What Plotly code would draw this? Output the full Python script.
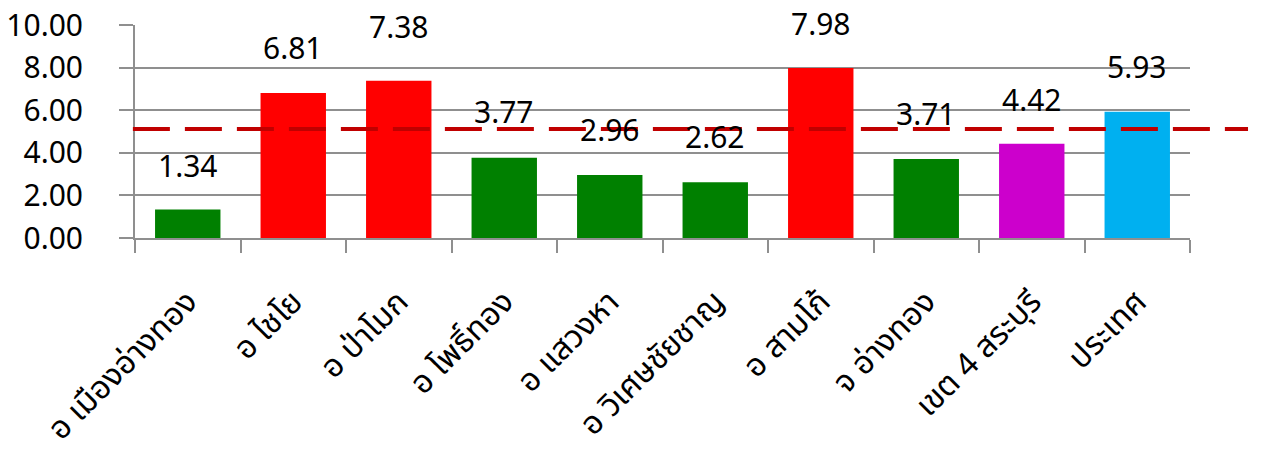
import plotly.graph_objects as go

# Districts of Ang Thong province, health region 4 and the national figure
districts = [
    "อ เมืองอ่างทอง", "อ ไชโย", "อ ป่าโมก", "อ โพธิ์ทอง", "อ แสวงหา",
    "อ วิเศษชัยชาญ", "อ สามโก้", "จ อ่างทอง", "เขต 4 สระบุรี", "ประเทศ",
]
rates = [1.34, 6.81, 7.38, 3.77, 2.96, 2.62, 7.98, 3.71, 4.42, 5.93]
bar_colors = [
    "#008000", "#FF0000", "#FF0000", "#008000", "#008000",
    "#008000", "#FF0000", "#008000", "#CC00CC", "#00B0F0",
]
reference_level = 5.12
y_ticks = [0, 2, 4, 6, 8, 10]

# pixel lift of each value label above its bar
label_lift = [44, 45, 54, 46, 45, 46, 45, 45, 44, 45]

GRID = "#8f8f8f"
NUM_FONT = dict(family="Noto Sans, DejaVu Sans, sans-serif", size=30, color="#000000")

fig = go.Figure()
fig.add_trace(go.Bar(
    x=districts,
    y=rates,
    marker=dict(color=bar_colors, line=dict(width=0)),
    width=0.62,
    hoverinfo="x+y",
))

for name, val, lift in zip(districts, rates, label_lift):
    fig.add_annotation(
        x=name, y=val, text=f"{val:.2f}", showarrow=False,
        yanchor="middle", xanchor="center", yshift=lift,
        font=NUM_FONT,
    )

# dashed reference line across the whole chart
fig.add_shape(
    type="line", xref="paper", yref="y",
    x0=-0.002, x1=1.055, y0=reference_level, y1=reference_level,
    line=dict(color="#C00000", width=4, dash="37px,15px"),
    layer="above",
)

fig.update_layout(
    width=1262, height=453,
    margin=dict(l=135, r=72, t=25, b=215),
    paper_bgcolor="#FFFFFF",
    plot_bgcolor="#FFFFFF",
    showlegend=False,
    bargap=0.38,
    xaxis=dict(
        type="category",
        automargin=False,
        showgrid=False,
        showline=True, linecolor=GRID, linewidth=2,
        ticks="outside", tickson="boundaries", ticklen=13,
        tickcolor=GRID, tickwidth=2,
        tickangle=-45,
        ticklabelstandoff=30,
        tickfont=dict(family="Tahoma, Noto Sans Thai, Noto Sans, sans-serif", size=32, color="#000000"),
    ),
    yaxis=dict(
        automargin=False,
        range=[0, 10],
        tickvals=y_ticks,
        tickformat=".2f",
        showgrid=True, gridcolor=GRID, gridwidth=2,
        showline=True, linecolor=GRID, linewidth=2,
        ticks="outside", ticklen=14, tickcolor=GRID, tickwidth=2,
        ticklabelstandoff=30,
        zeroline=False,
        tickfont=NUM_FONT,
    ),
)

fig.write_html("out.html")
